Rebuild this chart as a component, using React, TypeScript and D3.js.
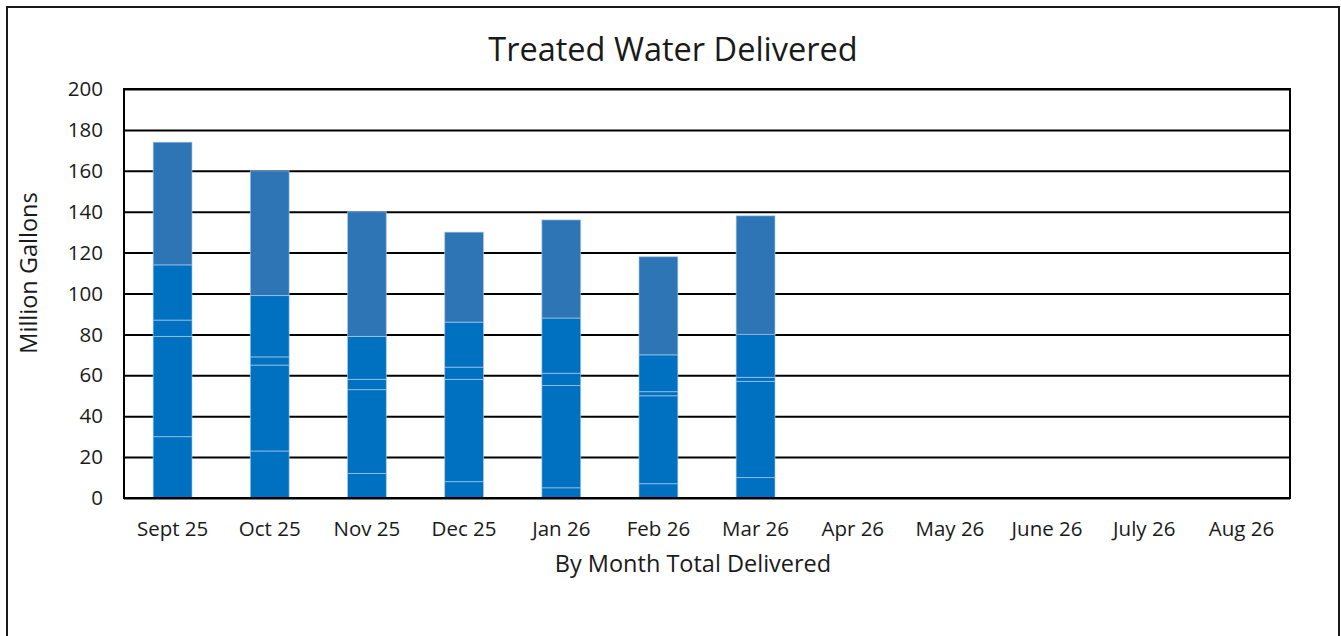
import React, { useRef, useEffect } from 'react';
import * as d3 from 'd3';

const months = ['Sept 25', 'Oct 25', 'Nov 25', 'Dec 25', 'Jan 26', 'Feb 26', 'Mar 26', 'Apr 26', 'May 26', 'June 26', 'July 26', 'Aug 26'];
const seriesNames = ['Source 1', 'Source 2', 'Source 3', 'Source 4', 'Source 5'];
// million gallons per month, bottom to top
const source1 = [30, 23, 12, 8, 5, 7, 10];
const source2 = [49, 42, 41, 50, 50, 43, 47];
const source3 = [8, 4, 5, 6, 6, 2, 2];
const source4 = [27, 30, 21, 22, 27, 18, 21];
const source5 = [60, 61, 61, 44, 48, 48, 58];
const yTicks = [0, 20, 40, 60, 80, 100, 120, 140, 160, 180, 200];
const colors = ['#0070C0', '#0070C0', '#0070C0', '#0070C0', '#2E75B6'];

const font = '"Open Sans", Lato, sans-serif';

const App = () => {
  const ref = useRef<SVGSVGElement | null>(null);

  useEffect(() => {
    if (!ref.current) return;
    const svg = d3.select(ref.current);
    svg.selectAll('*').remove();

    const W = 1341, H = 636;
    const margin = { top: 89, right: 51, bottom: 138, left: 124 };
    const width = W - margin.left - margin.right;
    const height = H - margin.top - margin.bottom;

    // outer chart frame (bottom edge runs off the picture)
    svg.append('rect')
      .attr('x', 7).attr('y', 7)
      .attr('width', 1332).attr('height', 660)
      .attr('fill', '#fff')
      .attr('stroke', '#1a1a1a')
      .attr('stroke-width', 2);

    svg.append('text')
      .attr('x', 673).attr('y', 61)
      .attr('text-anchor', 'middle')
      .attr('font-family', font)
      .attr('font-size', '32.5px')
      .attr('fill', '#1a1a1a')
      .text('Treated Water Delivered');

    const g = svg.append('g').attr('transform', `translate(${margin.left},${margin.top})`);

    const x = d3.scaleBand().domain(months).range([0, width]).paddingInner(0.6).paddingOuter(0.3);
    const y = d3.scaleLinear().domain([0, 200]).range([height, 0]);

    // gridlines
    g.append('g')
      .call(d3.axisLeft(y).tickValues(yTicks).tickSize(-width).tickFormat(() => ''))
      .call(s => s.select('.domain').remove())
      .call(s => s.selectAll('line').attr('stroke', '#000').attr('stroke-width', 2));

    // stacked data
    const table = months.slice(0, source1.length).map((m, i) => ({
      month: m,
      'Source 1': source1[i],
      'Source 2': source2[i],
      'Source 3': source3[i],
      'Source 4': source4[i],
      'Source 5': source5[i],
    }));
    const stacked = d3.stack<any>().keys(seriesNames)(table);

    g.selectAll('g.series')
      .data(stacked)
      .join('g')
      .attr('class', 'series')
      .attr('fill', (d, i) => colors[i])
      .selectAll('rect')
      .data(d => d)
      .join('rect')
      .attr('x', d => x(d.data.month) as number)
      .attr('width', x.bandwidth())
      .attr('y', d => y(d[1]))
      .attr('height', d => y(d[0]) - y(d[1]))
      .attr('stroke', 'rgba(180,210,240,0.6)')
      .attr('stroke-width', 1);

    // plot border
    g.append('rect')
      .attr('width', width).attr('height', height)
      .attr('fill', 'none')
      .attr('stroke', '#000')
      .attr('stroke-width', 2);

    // y axis labels
    g.append('g')
      .selectAll('text')
      .data(yTicks)
      .join('text')
      .attr('x', -21)
      .attr('y', d => y(d))
      .attr('dy', '0.35em')
      .attr('text-anchor', 'end')
      .attr('font-family', font)
      .attr('font-size', '20.5px')
      .attr('fill', '#1a1a1a')
      .text(d => d);

    // x axis labels
    g.append('g')
      .selectAll('text')
      .data(months)
      .join('text')
      .attr('x', d => (x(d) as number) + x.bandwidth() / 2)
      .attr('y', height + 38)
      .attr('text-anchor', 'middle')
      .attr('font-family', font)
      .attr('font-size', '20.5px')
      .attr('fill', '#1a1a1a')
      .text(d => d);

    svg.append('text')
      .attr('x', 693).attr('y', 572)
      .attr('text-anchor', 'middle')
      .attr('font-family', font)
      .attr('font-size', '23.5px')
      .attr('fill', '#1a1a1a')
      .text('By Month Total Delivered');

    svg.append('text')
      .attr('transform', 'translate(37,273) rotate(-90)')
      .attr('text-anchor', 'middle')
      .attr('font-family', font)
      .attr('font-size', '23.5px')
      .attr('fill', '#1a1a1a')
      .text('Million Gallons');
  }, []);

  return (
    <div style={{ position: 'absolute', left: 0, top: 0 }}>
      <svg ref={ref} width={1341} height={636} style={{ display: 'block' }} />
    </div>
  );
};

export default App;
